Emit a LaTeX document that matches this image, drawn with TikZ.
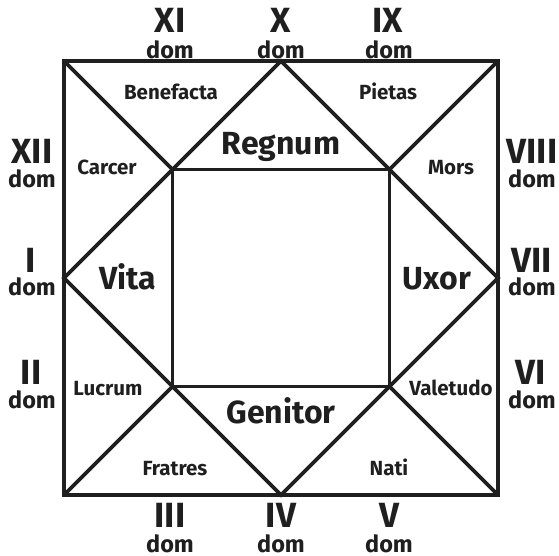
\documentclass[tikz,border=0pt]{standalone}
\usepackage{fontspec}
\setmainfont{Fira Sans}
\begin{document}
\begin{tikzpicture}[x=1pt,y=-1pt,
  frame/.style={line width=3.8pt,draw=black!88},
  num/.style={font=\fontsize{35}{35}\selectfont\bfseries,anchor=base,inner sep=0pt,text=black!88},
  domlbl/.style={font=\fontsize{23.5}{23.5}\selectfont\bfseries,anchor=base,inner sep=0pt,text=black!88},
  big/.style={font=\fontsize{32}{32}\selectfont\bfseries,anchor=base,inner sep=0pt,text=black!88},
  small/.style={font=\fontsize{20.5}{20.5}\selectfont\bfseries,anchor=base,inner sep=0pt,text=black!88}]
\useasboundingbox (0,0) rectangle (559,556);
% outer corners
\coordinate (TL) at (64,61);
\coordinate (TR) at (498,61);
\coordinate (BR) at (498,495);
\coordinate (BL) at (64,495);
% midpoints
\coordinate (T) at (281,61);
\coordinate (R) at (498,278);
\coordinate (B) at (281,495);
\coordinate (L) at (64,278);
% inner corners
\coordinate (iTL) at (172.5,169.5);
\coordinate (iTR) at (389.5,169.5);
\coordinate (iBR) at (389.5,386.5);
\coordinate (iBL) at (172.5,386.5);
\draw[frame] (TL) -- (TR) -- (BR) -- (BL) -- cycle;
\draw[frame] (T) -- (R) -- (B) -- (L) -- cycle;
\draw[frame] (iTL) -- (iTR) -- (iBR) -- (iBL) -- cycle;
\draw[frame] (TL) -- (iTL);
\draw[frame] (TR) -- (iTR);
\draw[frame] (BR) -- (iBR);
\draw[frame] (BL) -- (iBL);
% house labels
\node[small] (benefacta) at (171,100) {Benefacta};
\node[small] (pietas) at (388,100) {Pietas};
\node[small] (carcer) at (107,175) {Carcer};
\node[small] (mors) at (451,175) {Mors};
\node[big] (regnum) at (281,155) {Regnum};
\node[big] (vita) at (128,289) {Vita};
\node[big] (uxor) at (437,289) {Uxor};
\node[big] (genitor) at (281,423) {Genitor};
\node[small] (lucrum) at (108,395) {Lucrum};
\node[small] (valetudo) at (451,395) {Valetudo};
\node[small] (fratres) at (175,475) {Fratres};
\node[small] (nati) at (389,475) {Nati};
% numerals
\node[num] (n11) at (170,33) {XI};
\node[domlbl] (d11) at (170,58.5) {dom};
\node[num] (n10) at (281,33) {X};
\node[domlbl] (d10) at (281,58.5) {dom};
\node[num] (n9) at (388,33) {IX};
\node[domlbl] (d9) at (389,58.5) {dom};
\node[num] (n12) at (32,164) {XII};
\node[domlbl] (d12) at (32,188) {dom};
\node[num] (n8) at (532,164) {VIII};
\node[domlbl] (d8) at (532,188) {dom};
\node[num] (n1) at (31,272) {I};
\node[domlbl] (d1) at (32,295) {dom};
\node[num] (n7) at (532,272) {VII};
\node[domlbl] (d7) at (532,295) {dom};
\node[num] (n2) at (31,384) {II};
\node[domlbl] (d2) at (32,408) {dom};
\node[num] (n6) at (531,384) {VI};
\node[domlbl] (d6) at (532,408) {dom};
\node[num] (n3) at (170,527) {III};
\node[domlbl] (d3) at (170,552) {dom};
\node[num] (n4) at (281,527) {IV};
\node[domlbl] (d4) at (281,552) {dom};
\node[num] (n5) at (389,527) {V};
\node[domlbl] (d5) at (389,552) {dom};
\end{tikzpicture}
\end{document}
